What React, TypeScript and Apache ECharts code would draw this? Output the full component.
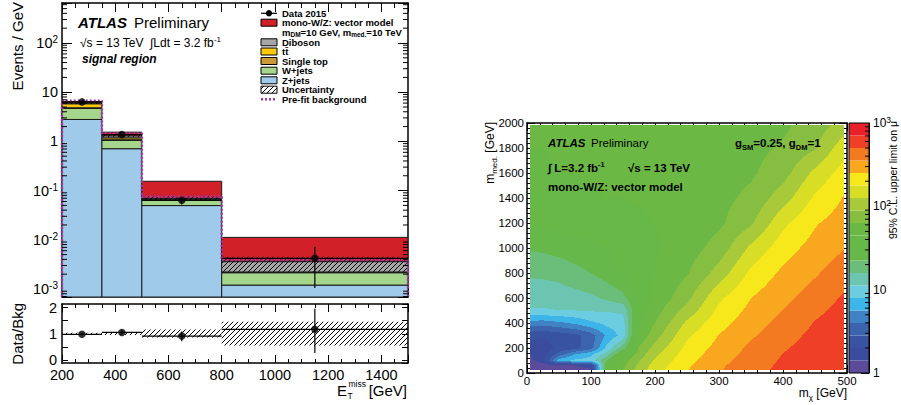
import React, { useEffect, useRef } from 'react';
import * as echarts from 'echarts';

const FONT = '"Liberation Sans", Arial, Helvetica, sans-serif';

/* ---------------- left panel: E_T^miss distribution (events / GeV) ---------------- */
const BIN_EDGES = [200, 350, 500, 800, 1500];
const Z_JETS = [2.79, 0.71, 0.0496, 0.0012];
const W_JETS = [1.88, 0.34, 0.014, 0.00094];
const SINGLE_TOP = [0.15, 0.03, 0.001, 0.00004];
const TTBAR = [1.0, 0.1, 0.002, 0.00004];
const DIBOSON = [0.25, 0.12, 0.003, 0.00138];
const SIGNAL = [0.35, 0.24, 0.085, 0.0076];
const UNC_LO = [5.75, 1.24, 0.064, 0.00224];
const UNC_HI = [6.45, 1.36, 0.076, 0.0045];
const PREFIT_BKG = [6.7, 1.45, 0.0745, 0.00387];
const DATA_X = [275, 425, 650, 1150];
const DATA_Y = [6.35, 1.38, 0.0636, 0.0042];
const DATA_LO = [6.05, 1.28, 0.052, 0.00105];
const DATA_HI = [6.65, 1.48, 0.0745, 0.0072];
/* ratio panel */
const RATIO = [0.98, 1.05, 0.91, 1.17];
const RATIO_LO = [0.94, 0.97, 0.71, 0.26];
const RATIO_HI = [1.02, 1.13, 1.09, 1.96];
const RATIO_UNC_LO = [0.96, 0.95, 0.86, 0.55];
const RATIO_UNC_HI = [1.04, 1.07, 1.16, 1.46];
const MAIN_Y_MIN = 6.87e-4;
const MAIN_Y_MAX = 650;
const RATIO_Y_MIN = -0.12;
const RATIO_Y_MAX = 2.14;

const C_Z = '#9fcae9';
const C_W = '#a5d68c';
const C_ST = '#c99a35';
const C_TT = '#fcc80c';
const C_VV = '#a6a6a6';
const C_SIG = '#d22028';
const C_PREFIT = '#a03aa6';

const STACK = [
  { values: Z_JETS, color: C_Z },
  { values: W_JETS, color: C_W },
  { values: SINGLE_TOP, color: C_ST },
  { values: TTBAR, color: C_TT },
  { values: DIBOSON, color: C_VV },
  { values: SIGNAL, color: C_SIG },
];

/* ---------------- right panel: 95% CL upper limit on mu ---------------- */
const M_CHI = [5, 25, 50, 75, 100, 125, 150, 175, 200, 250, 300, 350, 400, 450, 495];
const M_MED = [25, 60, 100, 150, 200, 300, 400, 500, 600, 800, 1000, 1200, 1400, 1600, 1800, 1985];
const MU_LIMIT = [
  [1.07, 1.11, 1.15, 1.19, 1.32, 37.6, 63.1, 104, 154, 247, 345, 443, 545, 617, 672],
  [1.15, 1.19, 1.32, 1.41, 1.68, 31.6, 58.9, 97.2, 146, 239, 335, 431, 535, 606, 661],
  [1.32, 1.68, 6.68, 8.51, 9.12, 22.4, 53.1, 85.8, 132, 226, 319, 416, 522, 596, 656],
  [1.41, 1.68, 3.35, 5.62, 7.41, 13.3, 37.6, 74.2, 116, 211, 300, 398, 505, 579, 643],
  [1.74, 1.68, 2.14, 2.45, 3.46, 8.81, 18.8, 65.3, 101, 196, 283, 379, 484, 575, 638],
  [2.21, 2.07, 2.29, 2.54, 3.35, 6.03, 9.12, 47.9, 77.1, 167, 254, 339, 440, 545, 617],
  [4.9, 4.73, 5.25, 6.03, 7.41, 8.81, 9.77, 41.7, 63.1, 135, 222, 304, 398, 510, 586],
  [10.8, 10.8, 11.2, 11.2, 11.6, 11.6, 12.0, 37.6, 55.0, 101, 194, 275, 358, 466, 558],
  [12.9, 12.9, 13.3, 13.8, 14.8, 17.0, 20.2, 33.9, 47.9, 80.9, 167, 251, 322, 419, 522],
  [16.7, 17.0, 17.6, 20.2, 22.4, 26.6, 31.6, 37.6, 44.7, 61.0, 103, 193, 269, 340, 434],
  [23.2, 24.0, 25.7, 27.5, 29.5, 31.6, 35.1, 38.9, 43.2, 53.1, 72.9, 136, 217, 286, 348],
  [33.9, 33.9, 35.1, 36.3, 37.6, 38.9, 40.3, 41.7, 44.7, 49.6, 58.9, 84.1, 164, 243, 295],
  [38.9, 38.9, 40.3, 41.7, 43.2, 44.7, 44.7, 46.2, 47.9, 51.3, 56.9, 68.6, 107, 189, 256],
  [43.2, 43.2, 44.7, 44.7, 46.2, 46.2, 47.9, 47.9, 49.6, 53.1, 55.0, 59.9, 77.6, 138, 206],
  [44.7, 44.7, 46.2, 46.2, 47.9, 47.9, 49.6, 49.6, 51.3, 53.1, 55.0, 56.9, 65.8, 86.1, 156],
  [47.9, 47.9, 47.9, 49.6, 49.6, 49.6, 51.3, 51.3, 53.1, 55.0, 56.9, 57.9, 58.9, 74.0, 102],
];
const Z_MIN = 1;
const Z_MAX = 1000;
const PALETTE = [
  '#5c4b9b', '#3b4c9f', '#3853a2', '#3c63ae', '#3f83c4', '#3db5e8', '#6ccde0', '#6cc5b1', '#6bbd7a', '#67b84b',
  '#67b847', '#6bb944', '#85be40', '#a8c93a', '#d8de26', '#f7e81c', '#f8a71e', '#f37a21', '#ef3f27', '#e8202a',
];

function logLabel(v: number): string {
  const l = Math.log10(v);
  const e = Math.round(l);
  if (Math.abs(l - e) > 1e-6) return '';
  if (e === 0) return '1';
  if (e === 1) return '10';
  return '10{sup|' + e + '}';
}
const plainLabel = (v: number) => String(v);

function makeHatch(color: string, size: number) {
  const c = document.createElement('canvas');
  c.width = size;
  c.height = size;
  const g = c.getContext('2d');
  if (g) {
    g.strokeStyle = color;
    g.lineWidth = 1;
    g.beginPath();
    g.moveTo(0, size);
    g.lineTo(size, 0);
    g.moveTo(-1, 1);
    g.lineTo(1, -1);
    g.moveTo(size - 1, size + 1);
    g.lineTo(size + 1, size - 1);
    g.stroke();
  }
  return { image: c, repeat: 'repeat', imageWidth: size, imageHeight: size };
}

function buildOption(): any {
  const hatch = makeHatch('#000', 5);
  const axLine = { show: true, onZero: false, lineStyle: { color: '#000', width: 1.5 } };
  const tick = (len: number) => ({ show: true, inside: true, length: len, lineStyle: { color: '#000', width: 1 } });
  const minor = (n: number, len: number) => ({ show: true, splitNumber: n, length: len, lineStyle: { color: '#000', width: 1 } });
  const off = { show: false };
  const lbl = (size: number, margin: number, extra: any = {}) => ({
    show: true, color: '#000', fontFamily: FONT, fontSize: size, margin, ...extra,
  });
  const supRichAxis = (size: number) => ({
    sup: { fontSize: size, color: '#000', fontFamily: FONT, verticalAlign: 'top', lineHeight: 10 },
  });

  // ---- stack rectangles
  const stackItems: number[][] = [];
  for (let b = 0; b < BIN_EDGES.length - 1; b++) {
    let cum = 0;
    STACK.forEach((comp, c) => {
      const lo = c === 0 ? MAIN_Y_MIN : cum;
      cum += comp.values[b];
      stackItems.push([BIN_EDGES[b], BIN_EDGES[b + 1], lo, cum, c]);
    });
  }
  const uncItems = UNC_LO.map((lo, b) => [BIN_EDGES[b], BIN_EDGES[b + 1], lo, UNC_HI[b]]);
  const ratioUncItems = RATIO_UNC_LO.map((lo, b) => [BIN_EDGES[b], BIN_EDGES[b + 1], lo, RATIO_UNC_HI[b]]);
  const prefitLine: number[][] = [[BIN_EDGES[0], MAIN_Y_MIN]];
  PREFIT_BKG.forEach((v, i) => prefitLine.push([BIN_EDGES[i], v]));
  prefitLine.push([BIN_EDGES[BIN_EDGES.length - 1], PREFIT_BKG[PREFIT_BKG.length - 1]]);
  prefitLine.push([BIN_EDGES[BIN_EDGES.length - 1], MAIN_Y_MIN]);
  const dataErr = DATA_X.map((x, i) => [x, DATA_Y[i], DATA_LO[i], DATA_HI[i], BIN_EDGES[i], BIN_EDGES[i + 1]]);
  const ratioErr = DATA_X.map((x, i) => [x, RATIO[i], RATIO_LO[i], RATIO_HI[i], BIN_EDGES[i], BIN_EDGES[i + 1]]);

  const rectRender = (fillFn: (c: number) => any, stroke: string | null) => (params: any, api: any) => {
    const p0 = api.coord([api.value(0), api.value(3)]);
    const p1 = api.coord([api.value(1), api.value(2)]);
    return {
      type: 'rect',
      shape: { x: p0[0], y: p0[1], width: p1[0] - p0[0], height: p1[1] - p0[1] },
      style: { fill: fillFn(api.value(4)), stroke: stroke || undefined, lineWidth: stroke ? 1 : 0 },
    };
  };
  const errRender = (params: any, api: any) => {
    const x = api.value(0), y = api.value(1);
    const pl = api.coord([x, api.value(2)]), ph = api.coord([x, api.value(3)]);
    const pa = api.coord([api.value(4), y]), pb = api.coord([api.value(5), y]);
    return {
      type: 'group',
      children: [
        { type: 'line', shape: { x1: pl[0], y1: pl[1], x2: ph[0], y2: ph[1] }, style: { stroke: '#000', lineWidth: 1.2 } },
        { type: 'line', shape: { x1: pa[0], y1: pa[1], x2: pb[0], y2: pb[1] }, style: { stroke: '#000', lineWidth: 1.2 } },
      ],
    };
  };

  // ---- contour map renderer
  const logMu = MU_LIMIT.map((r) => r.map((v) => Math.log10(v)));
  const step = Math.log10(Z_MAX / Z_MIN) / PALETTE.length;
  const mapRender = (params: any, api: any) => {
    const nX = M_CHI.length, nY = M_MED.length;
    const a = api.coord([M_CHI[0], M_MED[0]]);
    const b = api.coord([M_CHI[nX - 1], M_MED[nY - 1]]);
    const xL = Math.round(a[0]), xR = Math.round(b[0]);
    const yB = Math.round(a[1]), yT = Math.round(b[1]);
    const children: any[] = [];
    for (let py = yT; py < yB; py++) {
      const ym = M_MED[0] + ((py + 0.5 - a[1]) / (b[1] - a[1])) * (M_MED[nY - 1] - M_MED[0]);
      let j = 0;
      while (j < nY - 2 && M_MED[j + 1] < ym) j++;
      const ty = Math.min(1, Math.max(0, (ym - M_MED[j]) / (M_MED[j + 1] - M_MED[j])));
      let runStart = xL, runBand = -1;
      for (let px = xL; px <= xR; px++) {
        let band = -1;
        if (px < xR) {
          const xm = M_CHI[0] + ((px + 0.5 - a[0]) / (b[0] - a[0])) * (M_CHI[nX - 1] - M_CHI[0]);
          let i = 0;
          while (i < nX - 2 && M_CHI[i + 1] < xm) i++;
          const tx = Math.min(1, Math.max(0, (xm - M_CHI[i]) / (M_CHI[i + 1] - M_CHI[i])));
          const v =
            (1 - tx) * (1 - ty) * logMu[j][i] + tx * (1 - ty) * logMu[j][i + 1] +
            (1 - tx) * ty * logMu[j + 1][i] + tx * ty * logMu[j + 1][i + 1];
          band = Math.max(0, Math.min(PALETTE.length - 1, Math.floor((v - Math.log10(Z_MIN)) / step)));
        }
        if (band !== runBand) {
          if (runBand >= 0) {
            children.push({ type: 'rect', shape: { x: runStart, y: py, width: px - runStart, height: 1 }, style: { fill: PALETTE[runBand] } });
          }
          runStart = px;
          runBand = band;
        }
      }
    }
    return { type: 'group', children };
  };
  const cbarItems = PALETTE.map((_, k) => [0, 1, Z_MIN * Math.pow(10, k * step), Z_MIN * Math.pow(10, (k + 1) * step), k]);

  // ---- graphic helpers
  const txt = (x: number, y: number, text: string, o: any = {}) => ({
    type: 'text', x, y, z: 100, silent: true, rotation: o.rot || 0,
    style: {
      text, fill: '#000', fontFamily: FONT, fontSize: o.size || 12, fontWeight: o.weight || 'normal',
      fontStyle: o.style || 'normal', align: o.align || 'left', textAlign: o.align || 'left',
      verticalAlign: o.valign || 'middle', textVerticalAlign: o.valign || 'middle',
      rich: o.rich, lineHeight: o.lh,
    },
  });
  const sup = (size: number, weight = 'normal') => ({ fontSize: size, fontFamily: FONT, fontWeight: weight, fill: '#000', verticalAlign: 'top', lineHeight: size + 1 });
  const sub = (size: number, weight = 'normal') => ({ fontSize: size, fontFamily: FONT, fontWeight: weight, fill: '#000', verticalAlign: 'bottom', lineHeight: size + 1 });

  const LEG_X = 261, LEG_W = 16, LEG_TX = 282, LEG_FS = 9.5;
  const legendEls: any[] = [];
  const legBox = (y: number, fill: any) =>
    legendEls.push({ type: 'rect', z: 100, silent: true, shape: { x: LEG_X, y: y - 3.5, width: LEG_W, height: 7 }, style: { fill, stroke: '#000', lineWidth: 1 } });
  const legTxt = (y: number, t: string, rich?: any) =>
    legendEls.push(txt(LEG_TX, y, t, { size: LEG_FS, weight: 'bold', rich, lh: 12 }));
  legendEls.push({ type: 'line', z: 100, silent: true, shape: { x1: LEG_X, y1: 13.3, x2: LEG_X + LEG_W, y2: 13.3 }, style: { stroke: '#000', lineWidth: 1.2 } });
  legendEls.push({ type: 'circle', z: 101, silent: true, shape: { cx: LEG_X + 8, cy: 13.3, r: 3.2 }, style: { fill: '#000' } });
  legTxt(13.3, 'Data 2015');
  legBox(22.7, C_SIG);
  legTxt(22.7, 'mono-W/Z: vector model');
  legTxt(32, 'm{s|DM}=10 GeV, m{s2|med.}=10 TeV', {
    s: { ...sub(6.5, 'bold'), padding: [0, 0, 0, 0] },
    s2: { ...sub(6.5, 'bold'), padding: [4, 0, 0, 0] },
  });
  legBox(42.3, C_VV);
  legTxt(42.3, 'Diboson');
  legBox(51.5, C_TT);
  legTxt(51.5, 'tt\u0304');
  legBox(61, C_ST);
  legTxt(61, 'Single top');
  legBox(70.7, C_W);
  legTxt(70.7, 'W+jets');
  legBox(80.3, C_Z);
  legTxt(80.3, 'Z+jets');
  legBox(89.7, hatch);
  legTxt(89.7, 'Uncertainty');
  legendEls.push({ type: 'line', z: 100, silent: true, shape: { x1: LEG_X, y1: 99.3, x2: LEG_X + LEG_W, y2: 99.3 }, style: { stroke: C_PREFIT, lineWidth: 2.5, lineDash: [2, 2] } });
  legTxt(99.3, 'Pre-fit background');

  const graphics: any[] = [
    ...legendEls,
    txt(78, 22, 'ATLAS', { size: 15, weight: 'bold', style: 'italic' }),
    txt(134, 22, 'Preliminary', { size: 15 }),
    txt(80, 43, '\u221As = 13 TeV  \u222BLdt = 3.2 fb{p|-1}', { size: 12, rich: { p: sup(8) }, lh: 15 }),
    txt(82, 58.5, 'signal region', { size: 12, weight: 'bold', style: 'italic' }),
    txt(17, 2, 'Events / GeV', { size: 15, rot: Math.PI / 2, align: 'right' }),
    txt(17, 303, 'Data/Bkg', { size: 15, rot: Math.PI / 2, align: 'right' }),
    txt(337, 390, 'E', { size: 15 }),
    txt(348.5, 383.5, 'miss', { size: 8.5 }),
    txt(347.5, 396, 'T', { size: 8.5 }),
    txt(407, 390, '[GeV]', { size: 15, align: 'right' }),
    txt(548, 143, 'ATLAS', { size: 11.5, weight: 'bold', style: 'italic' }),
    txt(591, 143, 'Preliminary', { size: 11.5 }),
    txt(548, 168, '\u222B L=3.2 fb{p|-1}', { size: 11.5, weight: 'bold', rich: { p: sup(7.5, 'bold') }, lh: 15 }),
    txt(628, 168, '\u221As = 13 TeV', { size: 11.5, weight: 'bold' }),
    txt(548, 187, 'mono-W/Z: vector model', { size: 11.5, weight: 'bold' }),
    txt(735, 143, 'g{s|SM}=0.25, g{s|DM}=1', { size: 11.5, weight: 'bold', rich: { s: sub(7.5, 'bold') }, lh: 16 }),
    txt(490, 122, 'm{s|med.} [GeV]', { size: 12, rot: Math.PI / 2, align: 'right', rich: { s: sub(8) }, lh: 16 }),
    txt(847, 393, 'm{s|\u03C7} [GeV]', { size: 12, align: 'right', rich: { s: sub(8) }, lh: 16 }),
    txt(893, 121, '95% C.L. upper limit on \u03BC', { size: 10.5, rot: Math.PI / 2, align: 'right' }),
  ];

  const baseX = (grid: number, min: number, max: number, interval: number, pos: string, label: any, tl: number, mn: number, ml: number) => ({
    type: 'value', gridIndex: grid, position: pos, min, max, interval,
    axisLine: axLine, axisTick: tick(tl), minorTick: minor(mn, ml), splitLine: off, minorSplitLine: off,
    axisLabel: label || { show: false },
  });

  return {
    animation: false,
    backgroundColor: '#fff',
    textStyle: { fontFamily: FONT },
    grid: [
      { left: 62, top: 3, width: 346, height: 294, containLabel: false, outerBoundsMode: 'none' },
      { left: 62, top: 304, width: 346, height: 59, containLabel: false, outerBoundsMode: 'none' },
      { left: 527, top: 123, width: 320, height: 250, containLabel: false, outerBoundsMode: 'none' },
      { left: 849, top: 123, width: 20, height: 250, containLabel: false, outerBoundsMode: 'none' },
    ],
    xAxis: [
      baseX(0, 200, 1500, 200, 'bottom', null, 9, 4, 5),
      baseX(0, 200, 1500, 200, 'top', null, 9, 4, 5),
      baseX(1, 200, 1500, 200, 'bottom', lbl(14.5, 4, { showMaxLabel: false, formatter: plainLabel }), 8, 4, 4),
      baseX(1, 200, 1500, 200, 'top', null, 8, 4, 4),
      baseX(2, 0, 500, 100, 'bottom', lbl(11.5, 2, { formatter: plainLabel }), 8, 5, 4),
      baseX(2, 0, 500, 100, 'top', null, 8, 5, 4),
      { type: 'value', gridIndex: 3, min: 0, max: 1, show: false },
    ],
    yAxis: [
      {
        type: 'log', logBase: 10, gridIndex: 0, position: 'left', min: MAIN_Y_MIN, max: MAIN_Y_MAX,
        axisLine: axLine, axisTick: tick(10), splitLine: off, minorTick: off,
        axisLabel: lbl(14.5, 4, { formatter: logLabel, lineHeight: 17, rich: supRichAxis(10) }),
      },
      {
        type: 'log', logBase: 10, gridIndex: 0, position: 'right', min: MAIN_Y_MIN, max: MAIN_Y_MAX,
        axisLine: axLine, axisTick: tick(10), splitLine: off, minorTick: off, axisLabel: { show: false },
      },
      {
        type: 'value', gridIndex: 1, position: 'left', min: RATIO_Y_MIN, max: RATIO_Y_MAX,
        axisLine: axLine, axisTick: tick(6), splitLine: off, minorTick: off,
        axisLabel: lbl(14.5, 5, {
          showMinLabel: false, showMaxLabel: false,
          formatter: (v: number) => (Math.abs(v - Math.round(v)) < 1e-6 ? String(Math.round(v)) : ''),
        }),
      },
      {
        type: 'value', gridIndex: 1, position: 'right', min: RATIO_Y_MIN, max: RATIO_Y_MAX,
        axisLine: axLine, axisTick: tick(6), splitLine: off, minorTick: off, axisLabel: { show: false },
      },
      {
        type: 'value', gridIndex: 2, position: 'left', min: 0, max: 2000, interval: 200,
        axisLine: axLine, axisTick: tick(8), minorTick: minor(5, 4), splitLine: off, minorSplitLine: off,
        axisLabel: lbl(11.5, 3, { formatter: plainLabel }),
      },
      {
        type: 'value', gridIndex: 2, position: 'right', min: 0, max: 2000, interval: 200,
        axisLine: axLine, axisTick: tick(8), minorTick: minor(5, 4), splitLine: off, minorSplitLine: off,
        axisLabel: { show: false },
      },
      {
        type: 'log', logBase: 10, gridIndex: 3, position: 'right', min: Z_MIN, max: Z_MAX,
        axisLine: { show: true, onZero: false, lineStyle: { color: '#000', width: 1 } },
        axisTick: tick(8), splitLine: off, minorTick: off,
        axisLabel: lbl(12, 4, { formatter: logLabel, lineHeight: 15, rich: supRichAxis(8.5) }),
      },
    ],
    series: [
      {
        type: 'custom', name: 'stack', xAxisIndex: 0, yAxisIndex: 0, clip: true, silent: true, z: 2,
        data: stackItems, encode: { x: [0, 1], y: [2, 3] },
        renderItem: rectRender((c) => STACK[c].color, '#1a1a1a'),
      },
      {
        type: 'custom', name: 'uncertainty', xAxisIndex: 0, yAxisIndex: 0, clip: true, silent: true, z: 3,
        data: uncItems, encode: { x: [0, 1], y: [2, 3] },
        renderItem: rectRender(() => hatch, null),
      },
      {
        type: 'line', name: 'prefit', xAxisIndex: 0, yAxisIndex: 0, step: 'end', showSymbol: false, silent: true, z: 4,
        data: prefitLine, lineStyle: { color: C_PREFIT, width: 2.5, type: [2, 2] }, clip: true,
      },
      {
        type: 'custom', name: 'dataErr', xAxisIndex: 0, yAxisIndex: 0, silent: true, z: 5, clip: true,
        data: dataErr, encode: { x: 0, y: 1 }, renderItem: errRender,
      },
      {
        type: 'scatter', name: 'Data 2015', xAxisIndex: 0, yAxisIndex: 0, silent: true, z: 6,
        data: DATA_X.map((x, i) => [x, DATA_Y[i]]), symbol: 'circle', symbolSize: 7.5, itemStyle: { color: '#000' },
      },
      {
        type: 'custom', name: 'logMinorTicks', xAxisIndex: 0, yAxisIndex: 0, silent: true, z: 7,
        data: [[BIN_EDGES[0], 1]], encode: { x: 0, y: 1 },
        renderItem: (params: any, api: any) => {
          const children: any[] = [];
          for (let e = -4; e <= 3; e++) {
            for (let m = 2; m <= 9; m++) {
              const v = m * Math.pow(10, e);
              if (v <= MAIN_Y_MIN || v >= MAIN_Y_MAX) continue;
              const pl = api.coord([BIN_EDGES[0], v]);
              const pr = api.coord([BIN_EDGES[BIN_EDGES.length - 1], v]);
              children.push({ type: 'line', shape: { x1: pl[0], y1: pl[1], x2: pl[0] + 5, y2: pl[1] }, style: { stroke: '#000', lineWidth: 1 } });
              children.push({ type: 'line', shape: { x1: pr[0] - 5, y1: pr[1], x2: pr[0], y2: pr[1] }, style: { stroke: '#000', lineWidth: 1 } });
            }
          }
          return { type: 'group', children };
        },
      },
      {
        type: 'custom', name: 'ratioUnc', xAxisIndex: 2, yAxisIndex: 2, clip: true, silent: true, z: 3,
        data: ratioUncItems, encode: { x: [0, 1], y: [2, 3] },
        renderItem: rectRender(() => hatch, null),
      },
      {
        type: 'custom', name: 'ratioErr', xAxisIndex: 2, yAxisIndex: 2, silent: true, z: 5, clip: true,
        data: ratioErr, encode: { x: 0, y: 1 }, renderItem: errRender,
      },
      {
        type: 'scatter', name: 'ratio', xAxisIndex: 2, yAxisIndex: 2, silent: true, z: 6,
        data: DATA_X.map((x, i) => [x, RATIO[i]]), symbol: 'circle', symbolSize: 7.5, itemStyle: { color: '#000' },
      },
      {
        type: 'custom', name: 'limitMap', xAxisIndex: 4, yAxisIndex: 4, silent: true, z: 1,
        data: [[M_CHI[0], M_MED[0]]], encode: { x: 0, y: 1 }, renderItem: mapRender,
      },
      {
        type: 'custom', name: 'colorbar', xAxisIndex: 6, yAxisIndex: 6, silent: true, z: 1,
        data: cbarItems, encode: { x: [0, 1], y: [2, 3] },
        renderItem: rectRender((k) => PALETTE[k], null),
      },
      {
        type: 'custom', name: 'colorbarFrame', xAxisIndex: 6, yAxisIndex: 6, silent: true, z: 5,
        data: [[0, Z_MIN]], encode: { x: 0, y: 1 },
        renderItem: (params: any, api: any) => {
          const p0 = api.coord([0, Z_MAX]);
          const p1 = api.coord([1, Z_MIN]);
          const children: any[] = [
            { type: 'rect', shape: { x: p0[0], y: p0[1], width: p1[0] - p0[0], height: p1[1] - p0[1] }, style: { fill: 'none', stroke: '#000', lineWidth: 1 } },
          ];
          for (let e = 0; e <= 2; e++) {
            for (let m = 2; m <= 9; m++) {
              const p = api.coord([1, m * Math.pow(10, e)]);
              children.push({ type: 'line', shape: { x1: p[0] - 4, y1: p[1], x2: p[0], y2: p[1] }, style: { stroke: '#000', lineWidth: 1 } });
            }
          }
          return { type: 'group', children };
        },
      },
    ],
    graphic: { elements: graphics },
  };
}

export default function App() {
  const ref = useRef<HTMLDivElement>(null);
  useEffect(() => {
    if (!ref.current) return;
    const chart = echarts.init(ref.current, null, { renderer: 'svg' });
    chart.setOption(buildOption());
    return () => chart.dispose();
  }, []);
  return <div ref={ref} style={{ position: 'absolute', left: 0, top: 0, width: 901, height: 405, background: '#fff' }} />;
}
